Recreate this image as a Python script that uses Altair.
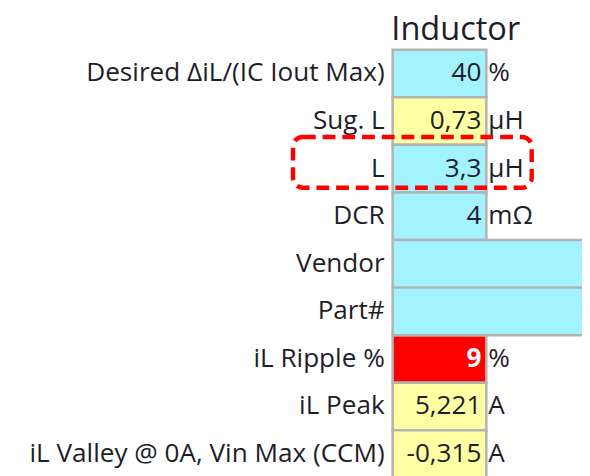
import altair as alt
import pandas as pd

labels = ["Desired ΔiL/(IC Iout Max)", "Sug. L", "L", "DCR", "Vendor", "Part#",
          "iL Ripple %", "iL Peak", "iL Valley @ 0A, Vin Max (CCM)"]
values = ["40", "0,73", "3,3", "4", "", "", "9", "5,221", "-0,315"]
units = ["%", "µH", "µH", "mΩ", "", "", "%", "A", "A"]
fills = ["input", "calc", "input", "input", "input", "input", "alert", "calc", "calc"]
wide = [False, False, False, False, True, True, False, False, False]
title_text = ["Inductor"]

df = pd.DataFrame({"label": labels, "value": values, "unit": units,
                   "fill": fills, "wide": wide})

FONT = "Open Sans"
TXT = "#1e1e28"
FS = 26.5

yscale = alt.Scale(domain=labels, range=[39, 473.25], paddingInner=0, paddingOuter=0)
yenc = alt.Y("label:N", sort=labels, axis=None, scale=yscale)
ytxt = alt.Y("label:N", sort=labels, axis=None, bandPosition=0.5, scale=yscale)
color = alt.Color("fill:N", legend=None,
                  scale=alt.Scale(domain=["input", "calc", "alert"],
                                  range=["#a3f2ff", "#ffffa3", "#ff0000"]))

base = alt.Chart(df)

cells = base.transform_filter("!datum.wide").mark_rect(
    stroke="#b3b3b3", strokeWidth=2.5).encode(
    y=yenc, x=alt.value(390), x2=alt.value(485), fill=color)

wide_cells = base.transform_filter("datum.wide").mark_rect(
    stroke="#b3b3b3", strokeWidth=2.5).encode(
    y=yenc, x=alt.value(390), x2=alt.value(610), fill=color)

lab = base.mark_text(align="right", baseline="middle", font=FONT,
                     fontSize=FS, color=TXT).encode(
    y=ytxt, x=alt.value(382), text="label:N")

vals = base.transform_filter("datum.fill != 'alert'").mark_text(
    align="right", baseline="middle", font=FONT, fontSize=FS, color=TXT).encode(
    y=ytxt, x=alt.value(480), text="value:N")

vals_alert = base.transform_filter("datum.fill == 'alert'").mark_text(
    align="right", baseline="middle", font=FONT, fontSize=FS,
    fontWeight="bold", color="white").encode(
    y=ytxt, x=alt.value(480), text="value:N")

unit_t = base.mark_text(align="left", baseline="middle", font=FONT,
                        fontSize=FS, color=TXT).encode(
    y=ytxt, x=alt.value(487), text="unit:N")

title = alt.Chart(pd.DataFrame({"t": title_text})).mark_text(
    align="center", baseline="alphabetic", font=FONT, fontSize=33, color=TXT).encode(
    x=alt.value(454), y=alt.value(29), text="t:N")

highlight = alt.Chart(pd.DataFrame({"k": ["L"]})).mark_rect(
    filled=False, stroke="#ff0000", strokeWidth=4.5, strokeDash=[13, 7],
    cornerRadius=10).encode(
    x=alt.value(289), x2=alt.value(531), y=alt.value(127.5), y2=alt.value(179))

chart = alt.layer(cells, wide_cells, lab, vals, vals_alert, unit_t, title,
                  highlight).properties(
    width=582, height=468, padding=0, autosize="none"
).configure_view(stroke=None)

chart.save("out.html", embed_options={"renderer": "svg", "actions": False})
